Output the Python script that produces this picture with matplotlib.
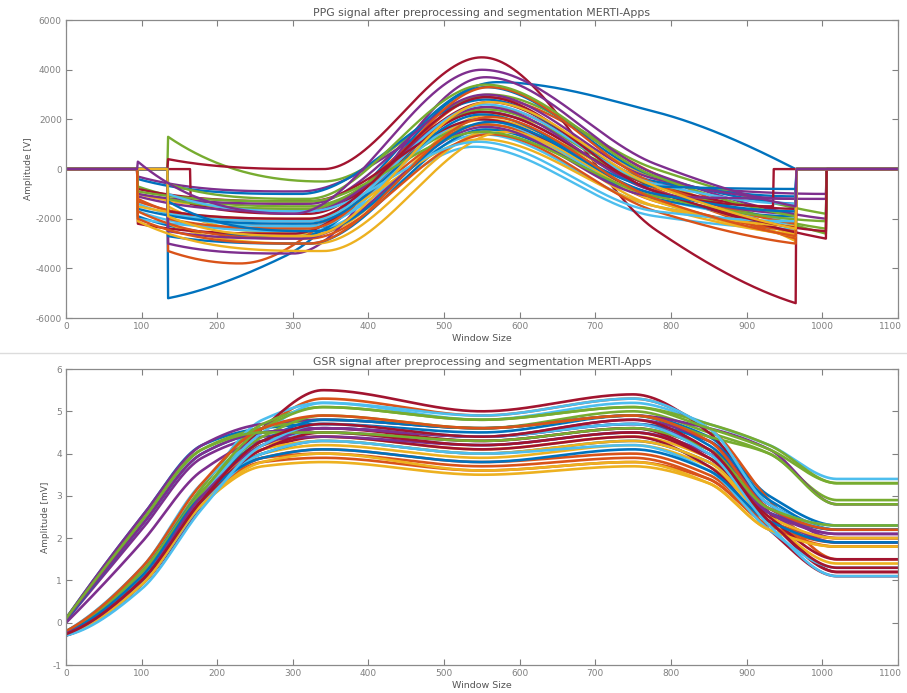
import numpy as np
import matplotlib.pyplot as plt
from matplotlib.transforms import ScaledTranslation

# MATLAB default line colour order
colors = ['#0072BD', '#D95319', '#EDB120', '#7E2F8E', '#77AC30', '#4DBEEE', '#A2142F']

# ---- PPG segments ----
# start x, start value, min x, min value, peak x, peak value, value at x=780, end x, end value
ppg_start_x = [135, 95, 135, 95, 135, 95, 135, 95, 135, 95, 135, 95, 95, 165, 95, 95, 135, 95, 135, 95,
               95, 135, 135, 95, 95, 135, 135, 95, 95, 95, 95, 135, 95, 135, 135, 135, 95, 135, 95]
ppg_start_v = [-5200, -1200, -1500, -300, 1300, -1700, 400, -1900, -3300, -1000, -3000, -700, -1400, -1400, -400,
               -1300, -2200, -1000, -1200, -2000, -2200, -2700, -2000, -1500, -1100, -600, -1800, -800, -1600,
               -1700, -2100, -2500, -900, -1000, -1700, -1300, -2000, -1900, 300]
ppg_min_x = [290, 320, 330, 310, 340, 320, 340, 310, 230, 320, 300, 320, 320, 320, 310, 320, 330, 320, 320, 320,
             300, 320, 320, 320, 320, 320, 320, 320, 320, 320, 340, 310, 320, 320, 320, 330, 320, 320, 300]
ppg_min_v = [-3500, -2300, -2600, -900, -500, -2500, 0, -2700, -3800, -1600, -3400, -1500, -2300, -1800, -1000,
             -2100, -3000, -1400, -1600, -2400, -2600, -3000, -2400, -2000, -1700, -1200, -2100, -1300, -2200,
             -2800, -3300, -2800, -1300, -1700, -2000, -2500, -3000, -2700, -1800]
ppg_peak_x = [570, 555, 560, 555, 560, 540, 550, 555, 560, 555, 555, 550, 550, 560, 555, 555, 570, 555, 555, 545,
              550, 555, 560, 550, 555, 555, 555, 550, 550, 560, 580, 555, 550, 545, 555, 560, 560, 560, 550]
ppg_peak_v = [3500, 2900, 2200, 2300, 3000, 900, 4500, 3300, 2500, 2000, 3700, 1800, 1400, 2700, 2800, 1800,
              1600, 3000, 2400, 2000, 2300, 1600, 3300, 1200, 2500, 3400, 2600, 2000, 2200, 1400, 1500, 1700,
              1500, 1100, 2900, 1900, 2100, 2700, 4000]
ppg_mid_v = [2300, -200, -400, -600, 0, -1900, -2450, -300, -800, -900, -200, -600, -1500, -700, -500, -1300,
             -1500, -400, -700, -1200, -900, -1200, -600, -1500, -900, -300, -600, -1000, -700, -1700, -1300,
             -1100, -1100, -1700, -900, -1000, -1200, -700, 200]
ppg_end_x = [965, 965, 965, 1005, 1005, 965, 965, 965, 965, 965, 1005, 1005, 965, 965, 965, 965, 965, 965, 1005,
             965, 1005, 965, 965, 965, 965, 965, 965, 935, 965, 965, 965, 1005, 1005, 965, 1005, 965, 965, 965, 965]
ppg_end_v = [0, -2700, -2900, -1000, -1800, -2400, -5400, -1400, -2800, -2600, -2000, -2600, -2200, -1600, -1100,
             -2500, -2600, -1200, -2400, -2000, -2800, -1900, -2200, -2300, -1800, -1900, -1400, -1500, -800,
             -3000, -2700, -1200, -2100, -2100, -2500, -1700, -2700, -2400, -1500]
ppg_mid_x = 780

# ---- GSR curves: values at fixed window positions (flat after the last one) ----
gsr_x = [0, 100, 180, 260, 340, 550, 750, 850, 930, 1020]
gsr_vals = [
    [0.10, 2.5, 4.2, 4.6, 4.7, 4.5, 4.9, 4.4, 3.0, 2.3],
    [-0.30, 1.0, 3.0, 4.6, 5.3, 4.9, 5.3, 4.6, 2.9, 1.5],
    [-0.25, 1.1, 3.1, 4.2, 4.4, 4.1, 4.4, 3.9, 2.6, 1.9],
    [0.05, 2.2, 3.9, 4.4, 4.5, 4.3, 4.6, 4.1, 2.8, 2.0],
    [0.10, 2.4, 4.1, 4.6, 4.8, 4.6, 5.0, 4.5, 4.0, 2.9],
    [-0.20, 1.3, 3.2, 4.8, 5.2, 4.8, 5.2, 4.7, 4.2, 3.4],
    [-0.30, 0.9, 2.8, 4.6, 5.5, 5.0, 5.4, 4.5, 2.6, 1.2],
    [0.05, 2.3, 4.0, 4.5, 4.6, 4.4, 4.7, 4.3, 2.9, 2.2],
    [-0.25, 1.0, 2.9, 3.8, 3.9, 3.6, 3.8, 3.4, 2.3, 1.9],
    [-0.28, 1.1, 3.0, 4.0, 4.2, 3.9, 4.2, 3.7, 2.4, 1.4],
    [0.10, 2.5, 4.2, 4.7, 4.8, 4.6, 4.9, 4.6, 4.1, 2.8],
    [-0.22, 1.2, 3.2, 4.7, 5.1, 4.8, 5.1, 4.7, 4.2, 3.3],
    [-0.20, 1.3, 3.3, 4.3, 4.5, 4.2, 4.5, 4.0, 2.7, 2.3],
    [-0.30, 0.9, 2.9, 4.1, 4.4, 4.1, 4.4, 3.7, 2.2, 1.1],
    [-0.24, 1.2, 3.1, 4.3, 4.8, 4.6, 4.9, 4.2, 2.8, 2.2],
    [-0.26, 1.0, 2.9, 3.9, 4.1, 3.8, 4.0, 3.5, 2.4, 2.0],
    [-0.28, 0.9, 2.8, 3.7, 3.8, 3.5, 3.7, 3.3, 2.2, 1.8],
    [0.00, 1.9, 3.6, 4.3, 4.4, 4.2, 4.5, 4.0, 2.6, 1.9],
    [-0.20, 1.2, 3.1, 4.4, 4.9, 4.6, 4.9, 4.4, 4.0, 2.8],
    [-0.22, 1.1, 3.0, 4.5, 5.2, 4.9, 5.3, 4.6, 2.8, 2.2],
    [-0.30, 0.9, 2.8, 4.2, 4.6, 4.3, 4.6, 3.9, 2.4, 1.2],
    [-0.25, 1.0, 3.0, 4.0, 4.3, 4.0, 4.3, 3.8, 2.6, 2.2],
    [-0.27, 1.0, 2.9, 3.9, 4.0, 3.7, 3.9, 3.4, 2.3, 1.8],
    [-0.24, 1.1, 3.0, 4.1, 4.3, 4.0, 4.3, 3.8, 2.5, 2.0],
    [0.08, 2.3, 4.0, 4.5, 4.6, 4.4, 4.8, 4.3, 2.7, 2.1],
    [-0.22, 1.2, 3.1, 4.6, 5.1, 4.8, 5.1, 4.6, 4.1, 3.3],
    [-0.30, 0.9, 2.8, 4.0, 4.3, 4.0, 4.2, 3.6, 2.2, 1.3],
    [-0.26, 1.0, 2.9, 4.1, 4.5, 4.2, 4.5, 3.9, 2.5, 1.5],
    [-0.24, 1.1, 3.0, 3.9, 4.1, 3.8, 4.1, 3.6, 2.4, 1.9],
    [-0.20, 1.3, 3.3, 4.6, 4.9, 4.6, 4.9, 4.3, 2.7, 2.2],
    [-0.28, 0.9, 2.8, 3.8, 4.0, 3.6, 3.8, 3.3, 2.2, 1.8],
    [-0.25, 1.0, 3.0, 4.2, 4.6, 4.4, 4.7, 4.1, 2.6, 2.1],
    [0.10, 2.4, 4.1, 4.5, 4.5, 4.3, 4.6, 4.1, 2.7, 2.3],
    [-0.30, 0.8, 2.7, 4.2, 4.7, 4.4, 4.7, 4.0, 2.3, 1.1],
    [-0.27, 1.0, 2.9, 4.3, 4.7, 4.4, 4.8, 4.1, 2.4, 1.3],
]


def pchip(xk, yk, x):
    xk = np.asarray(xk, float)
    yk = np.asarray(yk, float)
    h = np.diff(xk)
    d = np.diff(yk) / h
    n = len(xk)
    m = np.zeros(n)
    if n == 2:
        m[:] = d[0]
    else:
        for k in range(1, n - 1):
            if d[k - 1] * d[k] > 0:
                w1 = 2 * h[k] + h[k - 1]
                w2 = h[k] + 2 * h[k - 1]
                m[k] = (w1 + w2) / (w1 / d[k - 1] + w2 / d[k])
        for i, (hh0, hh1, d0, d1) in ((0, (h[0], h[1], d[0], d[1])), (n - 1, (h[-1], h[-2], d[-1], d[-2]))):
            s = ((2 * hh0 + hh1) * d0 - hh0 * d1) / (hh0 + hh1)
            if np.sign(s) != np.sign(d0):
                s = 0.0
            elif np.sign(d0) != np.sign(d1) and abs(s) > abs(3 * d0):
                s = 3 * d0
            m[i] = s
    idx = np.clip(np.searchsorted(xk, x) - 1, 0, n - 2)
    t = (x - xk[idx]) / h[idx]
    h00 = 2 * t**3 - 3 * t**2 + 1
    h10 = t**3 - 2 * t**2 + t
    h01 = -2 * t**3 + 3 * t**2
    h11 = t**3 - t**2
    return h00 * yk[idx] + h10 * h[idx] * m[idx] + h01 * yk[idx + 1] + h11 * h[idx] * m[idx + 1]


plt.rcParams['font.family'] = ['DejaVu Sans']
plt.rcParams['axes.unicode_minus'] = False
text_col = '#555555'
tick_col = '#808080'

fig = plt.figure(figsize=(9.07, 6.93), dpi=100)
ax1 = fig.add_axes([0.0728, 0.541, 0.917, 0.430])
ax2 = fig.add_axes([0.0728, 0.0404, 0.917, 0.4271])

x = np.arange(1, 1101)

for i in range(len(ppg_start_x)):
    xs, xe = ppg_start_x[i], ppg_end_x[i]
    xk = [xs, ppg_min_x[i], ppg_peak_x[i], ppg_mid_x, xe]
    yk = [ppg_start_v[i], ppg_min_v[i], ppg_peak_v[i], ppg_mid_v[i], ppg_end_v[i]]
    y = np.zeros_like(x, dtype=float)
    seg = (x >= xs) & (x <= xe)
    y[seg] = pchip(xk, yk, x[seg])
    ax1.plot(x, y, color=colors[i % 7], lw=1.7)

for i, vals in enumerate(gsr_vals):
    xk = gsr_x + [1100]
    yk = vals + [vals[-1]]
    ax2.plot(x, pchip(xk, yk, x), color=colors[i % 7], lw=1.9)

ax1.set_xlim(0, 1100)
ax1.set_ylim(-6000, 6000)
ax1.set_yticks(np.arange(-6000, 6001, 2000))
ax1.set_title('PPG signal after preprocessing and segmentation MERTI-Apps', fontsize=7.8, color=text_col, pad=3)
ax1.set_ylabel('Amplitude [V]', fontsize=6.5, color=text_col, labelpad=2)
ax1.set_xlabel('Window Size', fontsize=6.8, color=text_col, labelpad=2)

ax2.set_xlim(0, 1100)
ax2.set_ylim(-1, 6)
ax2.set_yticks(np.arange(-1, 7, 1))
ax2.set_title('GSR signal after preprocessing and segmentation MERTI-Apps', fontsize=7.8, color=text_col, pad=3)
ax2.set_ylabel('Amplitude [mV]', fontsize=6.5, color=text_col, labelpad=2)
ax2.set_xlabel('Window Size', fontsize=6.8, color=text_col, labelpad=2)

for ax in (ax1, ax2):
    ax.set_xticks(np.arange(0, 1101, 100))
    ax.tick_params(direction='in', length=4, width=0.8, top=True, right=True,
                   labelsize=6.5, colors=tick_col, labelcolor=tick_col, pad=3)
    for sp in ax.spines.values():
        sp.set_color('#8a8a8a')
        sp.set_linewidth(0.9)
    # keep the last x tick label ("1100") inside the picture
    last = ax.xaxis.get_major_ticks()[-1].label1
    last.set_transform(last.get_transform() + ScaledTranslation(-5 / 72, 0, fig.dpi_scale_trans))

fig.add_artist(plt.Line2D([0, 1], [0.491, 0.491], color='#dcdcdc', lw=1.0))

fig.savefig('out.png', dpi=100)
